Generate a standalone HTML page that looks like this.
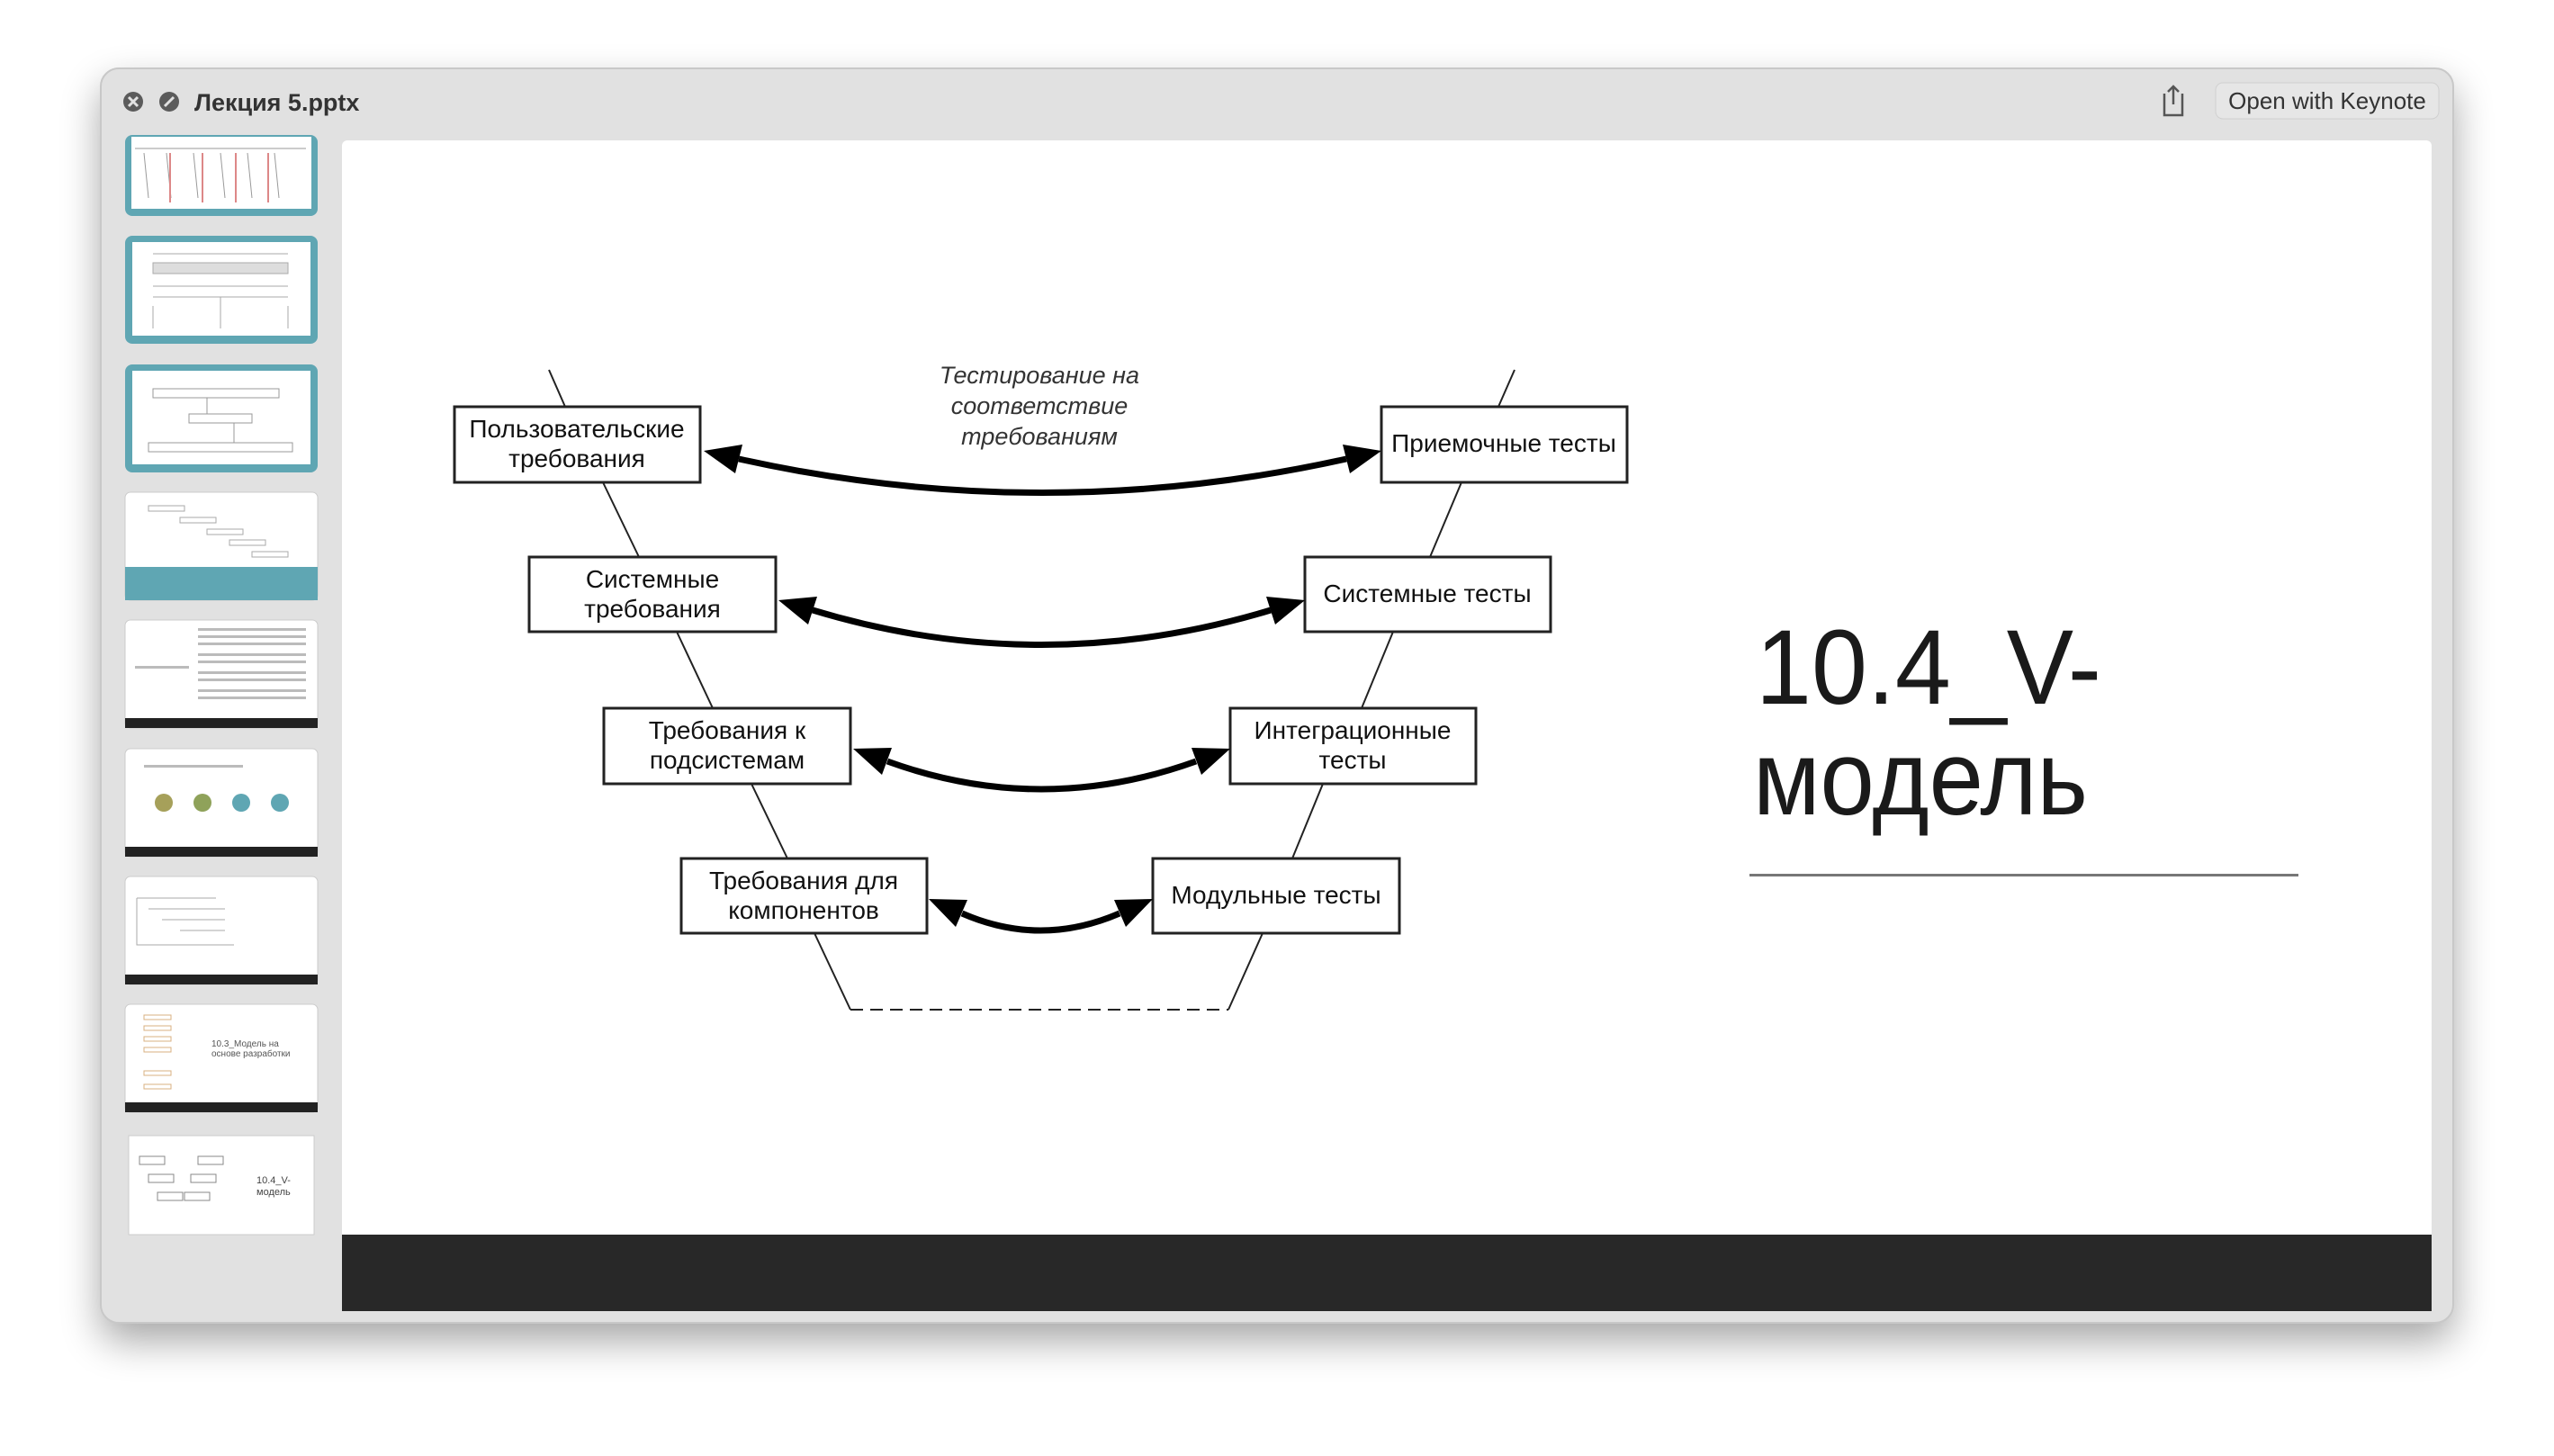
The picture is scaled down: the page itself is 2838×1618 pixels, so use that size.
<!DOCTYPE html>
<html><head><meta charset="utf-8"><style>
html,body{margin:0;padding:0;background:#fff;width:2838px;height:1618px;overflow:hidden}
svg{display:block}
</style></head><body>
<svg width="2838" height="1618" viewBox="0 0 2838 1618" xmlns="http://www.w3.org/2000/svg" font-family="'Liberation Sans','DejaVu Sans',sans-serif">
<defs>
<filter id="sh" x="-10%" y="-10%" width="120%" height="130%"><feGaussianBlur stdDeviation="22"/></filter>
</defs>
<rect x="112" y="95" width="2614" height="1395" rx="20" fill="#000" opacity="0.35" filter="url(#sh)"/>
<rect x="112" y="76" width="2614" height="1394" rx="20" fill="#e1e1e1" stroke="#c8c8c8" stroke-width="2"/>
<!-- title bar -->
<circle cx="148" cy="113" r="11" fill="#5b5b5b"/>
<path d="M143,108 L153,118 M153,108 L143,118" stroke="#e1e1e1" stroke-width="3"/>
<circle cx="188" cy="113" r="11" fill="#5b5b5b"/>
<path d="M183,118 L193,108" stroke="#e1e1e1" stroke-width="3"/>
<text x="216" y="123" font-size="27" font-weight="bold" fill="#333">Лекция 5.pptx</text>
<path d="M2405,104 L2405,128 L2425,128 L2425,104 M2415,96 L2415,116 M2409,102 L2415,96 L2421,102" fill="none" stroke="#555" stroke-width="2.5"/>
<rect x="2462" y="92" width="248" height="40" rx="8" fill="#e6e6e6" stroke="#d0d0d0"/>
<text x="2586" y="121" font-size="26" fill="#333" text-anchor="middle">Open with Keynote</text>
<!-- thumbnails -->
<g>
<rect x="139" y="150" width="214" height="90" rx="8" fill="#5fa6b3"/><rect x="146" y="152" width="200" height="80" fill="#fff"/>
<g stroke="#999" stroke-width="1" fill="none"><path d="M150,165 L340,165 M160,170 L165,220 M185,170 L190,220 M215,170 L220,220 M245,170 L250,220 M275,170 L280,220 M305,170 L310,220"/></g>
<path d="M189,170 V225 M225,170 V225 M262,170 V225 M298,170 V225" stroke="#d88" stroke-width="2"/>
<rect x="139" y="262" width="214" height="120" rx="8" fill="#5fa6b3"/><rect x="147" y="269" width="198" height="104" fill="#fff"/>
<g stroke="#aaa" stroke-width="1" fill="none"><rect x="170" y="292" width="150" height="12" fill="#ddd"/><path d="M170,282 H320 M170,318 H320 M170,330 H320 M170,340 V365 M245,330 V365 M320,340 V365"/></g>
<rect x="139" y="405" width="214" height="120" rx="8" fill="#5fa6b3"/><rect x="147" y="412" width="198" height="104" fill="#fff"/>
<g stroke="#999" stroke-width="1" fill="none"><rect x="170" y="432" width="140" height="10"/><rect x="210" y="460" width="70" height="10"/><rect x="165" y="492" width="160" height="10"/><path d="M230,442 V460 M260,470 V492"/></g>
<rect x="139" y="547" width="214" height="120" rx="6" fill="#fff" stroke="#ccc"/><rect x="139" y="630" width="214" height="37" fill="#5fa6b3"/>
<g stroke="#aaa" stroke-width="1" fill="none"><rect x="165" y="562" width="40" height="6"/><rect x="200" y="575" width="40" height="6"/><rect x="230" y="588" width="40" height="6"/><rect x="255" y="600" width="40" height="6"/><rect x="280" y="613" width="40" height="6"/></g>
<rect x="139" y="689" width="214" height="120" rx="6" fill="#fff" stroke="#ccc"/><rect x="139" y="798" width="214" height="11" fill="#222"/>
<g fill="#bbb"><rect x="220" y="698" width="120" height="3"/><rect x="220" y="706" width="120" height="3"/><rect x="220" y="714" width="120" height="3"/><rect x="220" y="726" width="120" height="3"/><rect x="220" y="734" width="120" height="3"/><rect x="220" y="746" width="120" height="3"/><rect x="220" y="754" width="120" height="3"/><rect x="220" y="766" width="120" height="3"/><rect x="220" y="774" width="120" height="3"/><rect x="150" y="740" width="60" height="3"/></g>
<rect x="139" y="832" width="214" height="120" rx="6" fill="#fff" stroke="#ccc"/><rect x="139" y="941" width="214" height="11" fill="#222"/>
<rect x="160" y="850" width="110" height="3" fill="#bbb"/>
<circle cx="182" cy="892" r="10" fill="#a6a05a"/><circle cx="225" cy="892" r="10" fill="#8fa25a"/><circle cx="268" cy="892" r="10" fill="#5fa6b3"/><circle cx="311" cy="892" r="10" fill="#5fa6b3"/>
<rect x="139" y="974" width="214" height="120" rx="6" fill="#fff" stroke="#ccc"/><rect x="139" y="1083" width="214" height="11" fill="#222"/>
<g stroke="#aaa" fill="none"><path d="M152,998 H240 M152,998 V1050 H260 M165,1010 H250 M180,1022 H250 M200,1034 H250"/></g>
<rect x="139" y="1116" width="214" height="120" rx="6" fill="#fff" stroke="#ccc"/><rect x="139" y="1225" width="214" height="11" fill="#222"/>
<g stroke="#d8b080" fill="none"><rect x="160" y="1128" width="30" height="5"/><rect x="160" y="1140" width="30" height="5"/><rect x="160" y="1152" width="30" height="5"/><rect x="160" y="1164" width="30" height="5"/><rect x="160" y="1190" width="30" height="5"/><rect x="160" y="1205" width="30" height="5"/></g>
<text x="235" y="1163" font-size="10" fill="#555">10.3_Модель на</text><text x="235" y="1174" font-size="10" fill="#555">основе разработки</text>
<rect x="143" y="1262" width="206" height="110" fill="#fff" stroke="#ccc"/>
<g stroke="#888" fill="none"><rect x="155" y="1285" width="28" height="9"/><rect x="220" y="1285" width="28" height="9"/><rect x="165" y="1305" width="28" height="9"/><rect x="212" y="1305" width="28" height="9"/><rect x="175" y="1325" width="28" height="9"/><rect x="205" y="1325" width="28" height="9"/></g>
<text x="285" y="1315" font-size="11" fill="#444">10.4_V-</text><text x="285" y="1328" font-size="11" fill="#444">модель</text>
</g>
<!-- slide -->
<rect x="380" y="156" width="2322" height="1301" rx="6" fill="#fff"/>
<rect x="380" y="1372" width="2322" height="85" fill="#282828"/>
<!-- V lines -->
<g stroke="#222" stroke-width="2" fill="none">
<path d="M610,411 L628,452 M670,536 L710,619 M752,702 L792,787 M835,871 L875,954 M905,1037 L945,1122"/>
<path d="M1683,411 L1665,452 M1624,536 L1589,619 M1548,702 L1513,787 M1470,871 L1436,954 M1403,1037 L1365,1122"/>
<path d="M945,1122 L1365,1122" stroke-dasharray="14,8"/>
</g>
<!-- boxes -->
<g fill="#fff" stroke="#222" stroke-width="3">
<rect x="505" y="452" width="273" height="84"/><rect x="1535" y="452" width="273" height="84"/>
<rect x="588" y="619" width="274" height="83"/><rect x="1450" y="619" width="273" height="83"/>
<rect x="671" y="787" width="274" height="84"/><rect x="1367" y="787" width="273" height="84"/>
<rect x="757" y="954" width="273" height="83"/><rect x="1281" y="954" width="274" height="83"/>
</g>
<g font-size="28" fill="#111" text-anchor="middle">
<text x="641" y="486">Пользовательские</text><text x="641" y="519">требования</text>
<text x="1671" y="502">Приемочные тесты</text>
<text x="725" y="653">Системные</text><text x="725" y="686">требования</text>
<text x="1586" y="669">Системные тесты</text>
<text x="808" y="821">Требования к</text><text x="808" y="854">подсистемам</text>
<text x="1503" y="821">Интеграционные</text><text x="1503" y="854">тесты</text>
<text x="893" y="988">Требования для</text><text x="893" y="1021">компонентов</text>
<text x="1418" y="1004">Модульные тесты</text>
</g>
<g font-size="27" font-style="italic" fill="#333" text-anchor="middle">
<text x="1155" y="426">Тестирование на</text><text x="1155" y="460">соответствие</text><text x="1155" y="494">требованиям</text>
</g>
<!-- arrows -->
<g stroke="#000" stroke-width="7" fill="none">
<path d="M821,510 Q1158,585 1496,510"/>
<path d="M903,678 Q1157,755 1412,678"/>
<path d="M986,846 Q1157,908 1329,846"/>
<path d="M1069,1015 Q1156,1053 1244,1015"/>
</g>
<g fill="#000">
<polygon points="782,501 817,526 825,494"/><polygon points="1535,501 1500,526 1492,494"/>
<polygon points="865,667 898,694 908,663"/><polygon points="1450,667 1417,694 1407,663"/>
<polygon points="948,832 980,861 991,831"/><polygon points="1367,832 1335,861 1324,831"/>
<polygon points="1032,999 1062,1030 1075,1000"/><polygon points="1281,999 1251,1030 1238,1000"/>
</g>
<!-- title -->
<g fill="#1a1a1a" font-size="118">
<text x="1951" y="782" textLength="384" lengthAdjust="spacingAndGlyphs">10.4_V-</text>
<text x="1948" y="905" textLength="372" lengthAdjust="spacingAndGlyphs">модель</text>
</g>
<rect x="1944" y="971" width="610" height="3" fill="#777"/>
</svg>
</body></html>
